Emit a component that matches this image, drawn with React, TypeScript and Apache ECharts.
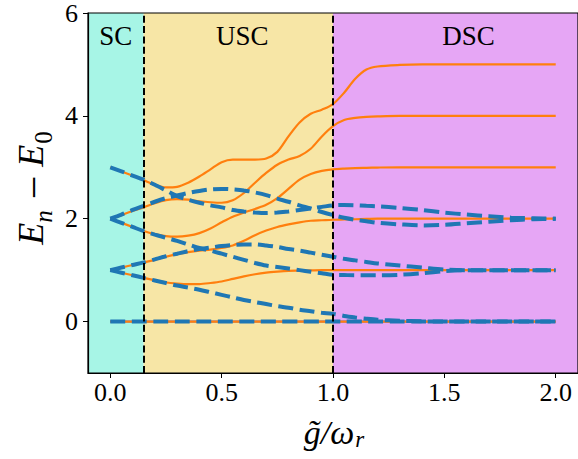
import React, { useEffect, useRef } from "react";
import * as echarts from "echarts";

// coupling strength g~/omega_r
const gValues = [0, 0.05, 0.1, 0.15, 0.2, 0.25, 0.3, 0.35, 0.4, 0.45, 0.5, 0.55, 0.6, 0.65, 0.7, 0.75, 0.8, 0.85, 0.9, 0.95, 1.0, 1.05, 1.1, 1.15, 1.2, 1.3, 1.4, 1.5, 1.6, 1.7, 1.8, 1.9, 2.0];

// exact spectrum (orange, solid)
const exact0 = [0, 0, 0, 0, 0, 0, 0, 0, 0, 0, 0, 0, 0, 0, 0, 0, 0, 0, 0, 0, 0, 0, 0, 0, 0, 0, 0, 0, 0, 0, 0, 0, 0];
const exact1 = [1, 0.95, 0.9, 0.85, 0.8, 0.76, 0.74, 0.73, 0.73, 0.75, 0.78, 0.83, 0.88, 0.92, 0.95, 0.97, 0.985, 0.99, 0.995, 1, 1, 1, 1, 1, 1, 1, 1, 1, 1, 1, 1, 1, 1];
const exact2 = [1, 1.05, 1.1, 1.15, 1.2, 1.26, 1.31, 1.35, 1.38, 1.4, 1.43, 1.48, 1.57, 1.68, 1.77, 1.84, 1.89, 1.93, 1.96, 1.97, 1.98, 1.985, 1.99, 1.995, 2, 2, 2, 2, 2, 2, 2, 2, 2];
const exact3 = [2, 1.92, 1.84, 1.76, 1.7, 1.66, 1.65, 1.67, 1.72, 1.81, 1.93, 2.04, 2.12, 2.19, 2.27, 2.4, 2.58, 2.76, 2.87, 2.93, 2.96, 2.975, 2.985, 2.99, 2.995, 3, 3, 3, 3, 3, 3, 3, 3];
const exact4 = [2, 2.07, 2.15, 2.22, 2.3, 2.36, 2.38, 2.37, 2.34, 2.32, 2.31, 2.36, 2.5, 2.7, 2.89, 3.05, 3.15, 3.22, 3.36, 3.6, 3.8, 3.92, 3.96, 3.98, 3.99, 4, 4, 4, 4, 4, 4, 4, 4];
const exact5 = [3, 2.92, 2.84, 2.75, 2.66, 2.61, 2.62, 2.7, 2.82, 2.96, 3.1, 3.15, 3.15, 3.15, 3.17, 3.3, 3.6, 3.87, 4.04, 4.12, 4.23, 4.45, 4.72, 4.9, 4.96, 4.99, 5, 5, 5, 5, 5, 5, 5];

// approximate spectrum (blue, dashed)
const approx0 = [0, 0, 0, 0, 0, 0, 0, 0, 0, 0, 0, 0, 0, 0, 0, 0, 0, 0, 0, 0, 0, 0, 0, 0, 0, 0, 0, 0, 0, 0, 0, 0, 0];
const approx1 = [1, 0.95, 0.9, 0.85, 0.8, 0.75, 0.7, 0.66, 0.62, 0.57, 0.52, 0.47, 0.42, 0.38, 0.34, 0.3, 0.27, 0.23, 0.2, 0.17, 0.15, 0.11, 0.08, 0.055, 0.035, 0.015, 0.005, 0, 0, 0, 0, 0, 0];
const approx2 = [1, 1.05, 1.1, 1.15, 1.21, 1.27, 1.32, 1.37, 1.41, 1.44, 1.47, 1.49, 1.5, 1.5, 1.48, 1.45, 1.41, 1.38, 1.34, 1.3, 1.26, 1.22, 1.19, 1.16, 1.13, 1.09, 1.05, 1.01, 1, 1, 1, 1, 1];
const approx3 = [2, 1.92, 1.84, 1.76, 1.69, 1.63, 1.57, 1.5, 1.43, 1.38, 1.32, 1.26, 1.2, 1.14, 1.09, 1.06, 1.03, 1.0, 0.97, 0.94, 0.91, 0.905, 0.9, 0.9, 0.9, 0.91, 0.94, 0.98, 1, 1, 1, 1, 1];
const approx4 = [2, 2.08, 2.17, 2.25, 2.33, 2.4, 2.45, 2.5, 2.54, 2.57, 2.58, 2.57, 2.55, 2.51, 2.46, 2.39, 2.33, 2.26, 2.2, 2.13, 2.07, 2.02, 1.98, 1.95, 1.92, 1.89, 1.87, 1.88, 1.91, 1.94, 1.97, 1.99, 2.0];
const approx5 = [3, 2.92, 2.84, 2.76, 2.66, 2.55, 2.44, 2.37, 2.31, 2.26, 2.22, 2.17, 2.14, 2.12, 2.11, 2.12, 2.14, 2.17, 2.2, 2.23, 2.26, 2.265, 2.26, 2.25, 2.24, 2.21, 2.17, 2.12, 2.08, 2.05, 2.02, 2.01, 2.0];

const regionNames = ["SC", "USC", "DSC"];
const regionBounds = [-0.1, 0.15, 1.0, 2.1];
const regionColors = ["#a7f5e6", "#f7e6a6", "#e6a6f5"];
const regionLabelShift = [0, 4, 13];
const boundaryLines = [0.15, 1.0];

const xTicks = [0, 0.5, 1.0, 1.5, 2.0];
const yTicks = [0, 2, 4, 6];

const exactSeries = [exact0, exact1, exact2, exact3, exact4, exact5];
const approxSeries = [approx0, approx1, approx2, approx3, approx4, approx5];

const SERIF = "Liberation Serif";

const zip = (ys: number[]) => gValues.map((g, i) => [g, ys[i]]);

export default function App() {
  const ref = useRef<HTMLDivElement>(null);
  useEffect(() => {
    const chart = echarts.init(ref.current!, null, { renderer: "svg" });

    const series: any[] = [];
    series.push({
      type: "line",
      data: zip(exact0),
      showSymbol: false,
      z: 1,
      markArea: {
        silent: true,
        data: regionNames.map((name, i) => [
          {
            name,
            xAxis: regionBounds[i],
            itemStyle: { color: regionColors[i], opacity: 1 },
            label: {
              show: true,
              position: "insideTop",
              offset: [regionLabelShift[i], 4],
              fontSize: 27,
              fontFamily: SERIF,
              color: "#000",
            },
          },
          { xAxis: regionBounds[i + 1] },
        ]),
      },
      markLine: {
        silent: true,
        symbol: ["none", "none"],
        label: { show: false },
        lineStyle: { color: "#000", width: 2, type: [7, 3.3] },
        data: boundaryLines.map((v) => ({ xAxis: v })),
      },
    });
    exactSeries.forEach((ys) =>
      series.push({
        type: "line",
        data: zip(ys),
        showSymbol: false,
        smooth: 0.3,
        z: 2,
        lineStyle: { color: "#ff7f0e", width: 2.2 },
      })
    );
    approxSeries.forEach((ys) =>
      series.push({
        type: "line",
        data: zip(ys),
        showSymbol: false,
        smooth: 0.3,
        z: 3,
        lineStyle: { color: "#1f77b4", width: 4, type: [15, 6.5] },
      })
    );

    const axisLine = { show: true, onZero: false, lineStyle: { color: "#000", width: 1.2 } };

    chart.setOption({
      animation: false,
      grid: { left: 88, top: 7, width: 491, height: 366, show: true, borderColor: "#000", borderWidth: 1.2, z: 10 },
      xAxis: {
        type: "value",
        min: -0.1,
        max: 2.1,
        z: 10,
        axisLine,
        axisTick: { show: true, length: 5, customValues: xTicks },
        axisLabel: {
          customValues: xTicks,
          formatter: (v: number) => v.toFixed(1),
          margin: 6,
          fontSize: 26,
          fontFamily: SERIF,
          color: "#000",
        },
        splitLine: { show: false },
      },
      yAxis: {
        type: "value",
        min: -1,
        max: 6,
        z: 10,
        axisLine,
        axisTick: { show: true, length: 5, customValues: yTicks },
        axisLabel: {
          customValues: yTicks,
          margin: 10,
          fontSize: 26,
          fontFamily: SERIF,
          color: "#000",
        },
        splitLine: { show: false },
      },
      graphic: [
        {
          type: "text",
          x: 334,
          y: 433,
          z: 100,
          style: {
            text: "{m|g\u0303/\u03c9}{s|r}",
            align: "center",
            verticalAlign: "middle",
            fill: "#000",
            rich: {
              m: { fontFamily: SERIF, fontStyle: "italic", fontSize: 34, verticalAlign: "top", color: "#000" },
              s: { fontFamily: SERIF, fontStyle: "italic", fontSize: 23, verticalAlign: "top", padding: [13, 0, 0, 1], color: "#000" },
            },
          },
        },
        {
          type: "text",
          x: 34,
          y: 188,
          z: 100,
          rotation: Math.PI / 2,
          style: {
            text: "{i|E}{s|n}{m|\u2212}{i|E}{z|0}",
            align: "center",
            verticalAlign: "middle",
            fill: "#000",
            rich: {
              i: { fontFamily: SERIF, fontStyle: "italic", fontSize: 36, verticalAlign: "top", color: "#000" },
              s: { fontFamily: SERIF, fontStyle: "italic", fontSize: 25, verticalAlign: "top", padding: [18, 0, 0, 0], color: "#000" },
              z: { fontFamily: SERIF, fontSize: 25, verticalAlign: "top", padding: [18, 0, 0, 1], color: "#000" },
              m: { fontFamily: SERIF, fontSize: 42, verticalAlign: "top", padding: [0, 9, 0, 11], color: "#000" },
            },
          },
        },
      ],
      series,
    });
    return () => chart.dispose();
  }, []);
  return <div ref={ref} style={{ position: "absolute", left: 0, top: 0, width: 578, height: 459 }} />;
}
